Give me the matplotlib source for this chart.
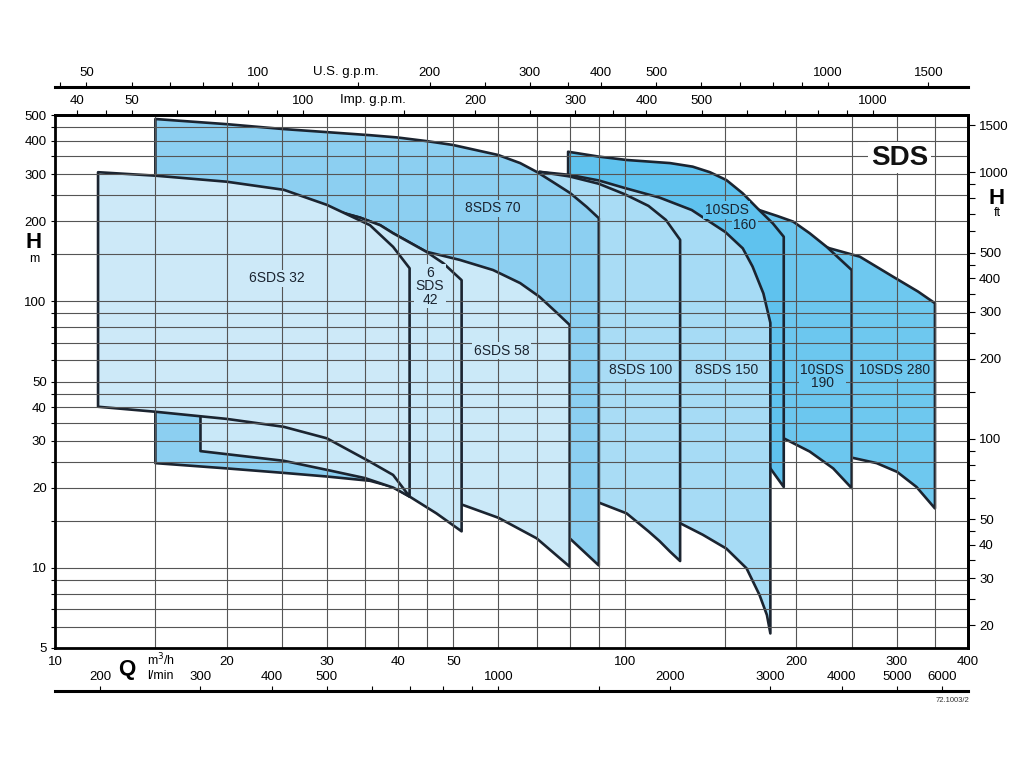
import matplotlib
matplotlib.use("Agg")
import matplotlib.pyplot as plt
from matplotlib.ticker import FixedLocator, FixedFormatter, NullFormatter

plt.rcParams['font.family'] = ['Liberation Sans', 'DejaVu Sans']

# ---------------- axis data ----------------
q_lim = [10, 400]          # m3/h
h_lim = [5, 500]           # m
q_grid = [15, 20, 25, 30, 35, 40, 45, 50, 60, 70, 80, 90, 100, 150, 200, 250, 300, 350]
h_grid = [6, 7, 8, 9, 10, 15, 20, 25, 30, 35, 40, 45, 50, 60, 70, 80, 90, 100,
          150, 200, 250, 300, 350, 400, 450]
q_labels = [10, 20, 30, 40, 50, 100, 200, 300, 400]
h_labels = [5, 10, 20, 30, 40, 50, 100, 200, 300, 400, 500]
ft_ticks = [20, 25, 30, 35, 40, 45, 50, 60, 70, 80, 90, 100, 150, 200, 250, 300, 350,
            400, 450, 500, 600, 700, 800, 900, 1000, 1500]
ft_labels = [20, 30, 40, 50, 100, 200, 300, 400, 500, 1000, 1500]
usgpm_ticks = [45, 50, 60, 70, 80, 90, 100, 150, 200, 250, 300, 350, 400, 500, 600,
               700, 800, 900, 1000, 1500]
usgpm_labels = [50, 100, 200, 300, 400, 500, 1000, 1500]
impgpm_ticks = [40, 45, 50, 60, 70, 80, 90, 100, 150, 200, 250, 300, 350, 400, 500,
                600, 700, 800, 900, 1000]
impgpm_labels = [40, 50, 100, 200, 300, 400, 500, 1000]
lmin_ticks = [200, 300, 400, 500, 600, 700, 800, 900, 1000, 1500, 2000, 3000, 4000,
              5000, 6000]
lmin_labels = [200, 300, 400, 500, 1000, 2000, 3000, 4000, 5000, 6000]

US_GPM = 4.40287
IMP_GPM = 3.66615
L_MIN = 1000.0 / 60.0
FT = 1 / 0.3048

# ---------------- pump ranges (Q m3/h, H m) ----------------
q_top_280 = [220, 228.8, 258.4, 295.6, 327, 350]
h_top_280 = [163, 158, 147, 123.6, 108.7, 98.3]
q_bot_280 = [220, 250, 276.5, 300.4, 324.9, 350]
h_bot_280 = [27, 25.9, 24.7, 22.9, 20.1, 16.7]

q_top_190 = [165, 172, 185, 197.4, 211, 226, 250]
h_top_190 = [232, 220, 209, 199, 180, 160, 131]
q_bot_190 = [165, 190, 211, 232, 250]
h_bot_190 = [33, 30.6, 27.3, 23.6, 19.9]

q_top_160 = [79.5, 90, 100.7, 120, 131.5, 141, 150.7, 161, 172, 181.8, 190]
h_top_160 = [364, 349, 339, 330, 320, 305, 285, 254, 220, 196, 174.6]
q_bot_160 = [79.5, 125, 150, 170, 180, 190]
h_bot_160 = [30, 27, 26, 25, 23.6, 20.1]

q_top_150 = [70.8, 80, 90, 100, 115, 131, 150, 161, 167.5, 175, 180]
h_top_150 = [306, 298, 284, 266, 245, 220, 182, 158, 135, 107, 83]
q_bot_150 = [70.8, 90, 100, 115, 125, 137, 150.7, 163.5, 172.3, 177.5, 180]
h_bot_150 = [20.5, 18.5, 17.5, 16.0, 14.7, 13.3, 11.8, 9.95, 7.9, 6.65, 5.67]

q_top_100 = [70.8, 80, 90, 100, 110, 118, 125]
h_top_100 = [306, 294, 276, 252, 228, 202, 170]
q_bot_100 = [70.8, 80, 90.4, 100.7, 110, 115, 120, 125]
h_bot_100 = [19.5, 18.5, 17.5, 16.0, 13.7, 12.6, 11.5, 10.6]

q_top_70 = [15, 20, 25.1, 35.7, 39.8, 44.9, 49.9, 59.9, 65.5, 70.2, 74.8, 80.1, 85.7, 90]
h_top_70 = [483, 462, 443, 420, 412, 399, 386, 354, 330, 305, 280, 255, 226, 205]
q_bot_70 = [15, 20, 25.2, 30, 35.7, 39.2, 41.9, 45, 52, 60, 70, 80, 90]
h_bot_70 = [24.7, 23.6, 22.7, 22.0, 21.2, 20.1, 18.5, 18.1, 17.6, 16.0, 14.6, 12.9, 10.2]

q_top_58 = [32, 34.3, 37.2, 39.2, 44.8, 51.3, 58.7, 65.5, 70.8, 75.6, 80]
h_top_58 = [215, 206, 193, 180, 153.5, 143, 131, 117, 104, 91.4, 81.5]
q_bot_58 = [32, 41.9, 48, 52, 60, 70, 80]
h_bot_58 = [25, 19.5, 18, 17.2, 15.4, 12.9, 10.1]

q_top_42 = [18, 25, 30, 34.3, 37.2, 39.2, 44.8, 48, 51.7]
h_top_42 = [255, 240, 222, 206, 193, 180, 153.5, 139, 120]
q_bot_42 = [18, 25.2, 30, 35, 39.2, 41.9, 46.7, 51.7]
h_bot_42 = [27.4, 25.2, 23.3, 21.7, 20.0, 18.5, 16.0, 13.7]

q_top_32 = [11.9, 15, 20, 25.2, 30, 35.7, 39.2, 41.9]
h_top_32 = [305, 296, 281, 262, 230, 193, 160, 133]
q_bot_32 = [11.9, 15, 20, 25.2, 30, 35.7, 39.2, 41.9]
h_bot_32 = [40.2, 38.5, 36.2, 33.8, 30.6, 25.0, 22.3, 18.5]

# name, arrays, fill colour (back -> front)
pumps = [
    ("10SDS 280", q_top_280, h_top_280, q_bot_280, h_bot_280, "#6ec8ef"),
    ("10SDS 190", q_top_190, h_top_190, q_bot_190, h_bot_190, "#6cc7ef"),
    ("10SDS 160", q_top_160, h_top_160, q_bot_160, h_bot_160, "#5fc2ee"),
    ("8SDS 150", q_top_150, h_top_150, q_bot_150, h_bot_150, "#a6dbf5"),
    ("8SDS 100", q_top_100, h_top_100, q_bot_100, h_bot_100, "#a9dcf5"),
    ("8SDS 70", q_top_70, h_top_70, q_bot_70, h_bot_70, "#8ccff1"),
    ("6SDS 58", q_top_58, h_top_58, q_bot_58, h_bot_58, "#cbe9f8"),
    ("6SDS 42", q_top_42, h_top_42, q_bot_42, h_bot_42, "#c9e8f8"),
    ("6SDS 32", q_top_32, h_top_32, q_bot_32, h_bot_32, "#cde9f8"),
]
colors = {p[0]: p[5] for p in pumps}

labels = [
    ("6SDS 32", 24.5, 122, "6SDS 32"),
    ("6\nSDS\n42", 45.5, 114, "6SDS 42"),
    ("8SDS 70", 58.7, 223, "8SDS 70"),
    ("6SDS 58", 60.8, 65.3, "6SDS 58"),
    ("8SDS 100", 106.7, 55.2, "8SDS 100"),
    ("8SDS 150", 150.8, 55.2, "8SDS 150"),
    ("10SDS", 150.8, 220, "10SDS 160"),
    ("160", 162.4, 193.3, "10SDS 160"),
    ("10SDS\n190", 222, 52.3, "10SDS 190"),
    ("10SDS 280", 297.6, 55.2, "10SDS 280"),
]

OUTLINE = "#1b2430"
GRID = "#555555"

fig = plt.figure(figsize=(10.24, 7.68), dpi=100)
L, R = 55 / 1024, 968 / 1024
B, T = 1 - 648 / 768, 1 - 115 / 768
ax = fig.add_axes([L, B, R - L, T - B])
ax.set_xscale('log')
ax.set_yscale('log')
ax.set_xlim(q_lim)
ax.set_ylim(h_lim)

for i, (name, qt, ht, qb, hb, col) in enumerate(pumps):
    qs = list(qt) + list(qb)[::-1]
    hs = list(ht) + list(hb)[::-1]
    ax.fill(qs, hs, facecolor=col, edgecolor=OUTLINE, linewidth=1.9,
            joinstyle='round', zorder=1 + i * 0.01)

for txt, q, h, key in labels:
    ax.text(q, h, txt, ha='center', va='center', fontsize=10, color='#1b2430',
            linespacing=0.95, zorder=4,
            bbox=dict(boxstyle='square,pad=0.12', fc=colors[key], ec='none'))

ax.text(303.7, 345.8, "SDS", ha='center', va='center', fontsize=20,
        fontweight='bold', color='#111111', zorder=4,
        bbox=dict(boxstyle='square,pad=0.1', fc='white', ec='none'))

# ticks and grid
ax.xaxis.set_major_locator(FixedLocator(q_labels))
ax.xaxis.set_major_formatter(FixedFormatter([str(v) for v in q_labels]))
ax.xaxis.set_minor_locator(FixedLocator([v for v in q_grid if v not in q_labels]))
ax.xaxis.set_minor_formatter(NullFormatter())
ax.yaxis.set_major_locator(FixedLocator(h_labels))
ax.yaxis.set_major_formatter(FixedFormatter([str(v) for v in h_labels]))
ax.yaxis.set_minor_locator(FixedLocator([v for v in h_grid if v not in h_labels]))
ax.yaxis.set_minor_formatter(NullFormatter())
ax.tick_params(axis='x', which='both', length=0, pad=6, labelsize=9.5)
ax.tick_params(axis='y', which='both', direction='out', length=3, width=0.8,
               pad=3, labelsize=9.5, right=False)
ax.set_axisbelow(False)
ax.grid(True, which='both', color=GRID, linewidth=0.8)
for s in ax.spines.values():
    s.set_linewidth(2.0)
    s.set_zorder(6)

# right axis: ft
sec_ft = ax.secondary_yaxis('right', functions=(lambda m: m * FT, lambda f: f / FT))
sec_ft.yaxis.set_major_locator(FixedLocator(ft_labels))
sec_ft.yaxis.set_major_formatter(FixedFormatter([str(v) for v in ft_labels]))
sec_ft.yaxis.set_minor_locator(FixedLocator([v for v in ft_ticks if v not in ft_labels]))
sec_ft.yaxis.set_minor_formatter(NullFormatter())
sec_ft.tick_params(which='both', direction='out', length=5, width=0.8, pad=3,
                   labelsize=9.5)
sec_ft.spines['right'].set_linewidth(2.0)

# top axis: Imp gpm
sec_imp = ax.secondary_xaxis('top', functions=(lambda q: q * IMP_GPM, lambda g: g / IMP_GPM))
sec_imp.xaxis.set_major_locator(FixedLocator(impgpm_labels))
sec_imp.xaxis.set_major_formatter(FixedFormatter([str(v) for v in impgpm_labels]))
sec_imp.xaxis.set_minor_locator(FixedLocator([v for v in impgpm_ticks if v not in impgpm_labels]))
sec_imp.xaxis.set_minor_formatter(NullFormatter())
sec_imp.tick_params(which='both', direction='out', length=3.5, width=0.8, pad=2.5,
                    labelsize=9.5)
sec_imp.spines['top'].set_linewidth(2.0)

# US gpm line
ax_us = fig.add_axes([L, 1 - 87 / 768, R - L, 1e-5])
ax_us.set_xscale('log')
ax_us.set_xlim(q_lim[0] * US_GPM, q_lim[1] * US_GPM)
ax_us.patch.set_visible(False)
ax_us.yaxis.set_visible(False)
for k, s in ax_us.spines.items():
    s.set_visible(k == 'top')
ax_us.spines['top'].set_linewidth(2.2)
ax_us.xaxis.set_ticks_position('top')
ax_us.xaxis.set_major_locator(FixedLocator(usgpm_labels))
ax_us.xaxis.set_major_formatter(FixedFormatter([str(v) for v in usgpm_labels]))
ax_us.xaxis.set_minor_locator(FixedLocator([v for v in usgpm_ticks if v not in usgpm_labels]))
ax_us.xaxis.set_minor_formatter(NullFormatter())
ax_us.tick_params(which='both', direction='out', length=3.5, width=0.8, pad=2.5,
                  labelsize=9.5)

# l/min line
ax_lm = fig.add_axes([L, 1 - 691 / 768, R - L, 1e-5])
ax_lm.set_xscale('log')
ax_lm.set_xlim(q_lim[0] * L_MIN, q_lim[1] * L_MIN)
ax_lm.patch.set_visible(False)
ax_lm.yaxis.set_visible(False)
for k, s in ax_lm.spines.items():
    s.set_visible(k == 'top')
ax_lm.spines['top'].set_linewidth(2.2)
ax_lm.xaxis.set_ticks_position('top')
ax_lm.xaxis.set_major_locator(FixedLocator(lmin_labels))
ax_lm.xaxis.set_major_formatter(FixedFormatter([str(v) for v in lmin_labels]))
ax_lm.xaxis.set_minor_locator(FixedLocator([v for v in lmin_ticks if v not in lmin_labels]))
ax_lm.xaxis.set_minor_formatter(NullFormatter())
ax_lm.tick_params(which='both', direction='out', length=3.5, width=0.8, pad=2.5,
                  labelsize=9.5)

# axis titles
def ftext(x, y, s, **kw):
    fig.text(x / 1024, 1 - y / 768, s, **kw)

ftext(346, 72, "U.S. g.p.m.", ha='center', va='center', fontsize=9.5)
ftext(373, 100, "Imp. g.p.m.", ha='center', va='center', fontsize=9.5)
ftext(34, 242, "H", ha='center', va='center', fontsize=16, fontweight='bold')
ftext(34, 259, "m", ha='center', va='center', fontsize=9)
ftext(997, 198, "H", ha='center', va='center', fontsize=16, fontweight='bold')
ftext(997, 213, "ft", ha='center', va='center', fontsize=9)
ftext(127, 670, "Q", ha='center', va='center', fontsize=16, fontweight='bold')
ftext(147, 660, "m$^3$/h", ha='left', va='center', fontsize=9)
ftext(147, 676, "l/min", ha='left', va='center', fontsize=9)
ftext(969, 701, "72.1003/2", ha='right', va='center', fontsize=5.5, color='#333333')

fig.savefig("out.png", dpi=100)
